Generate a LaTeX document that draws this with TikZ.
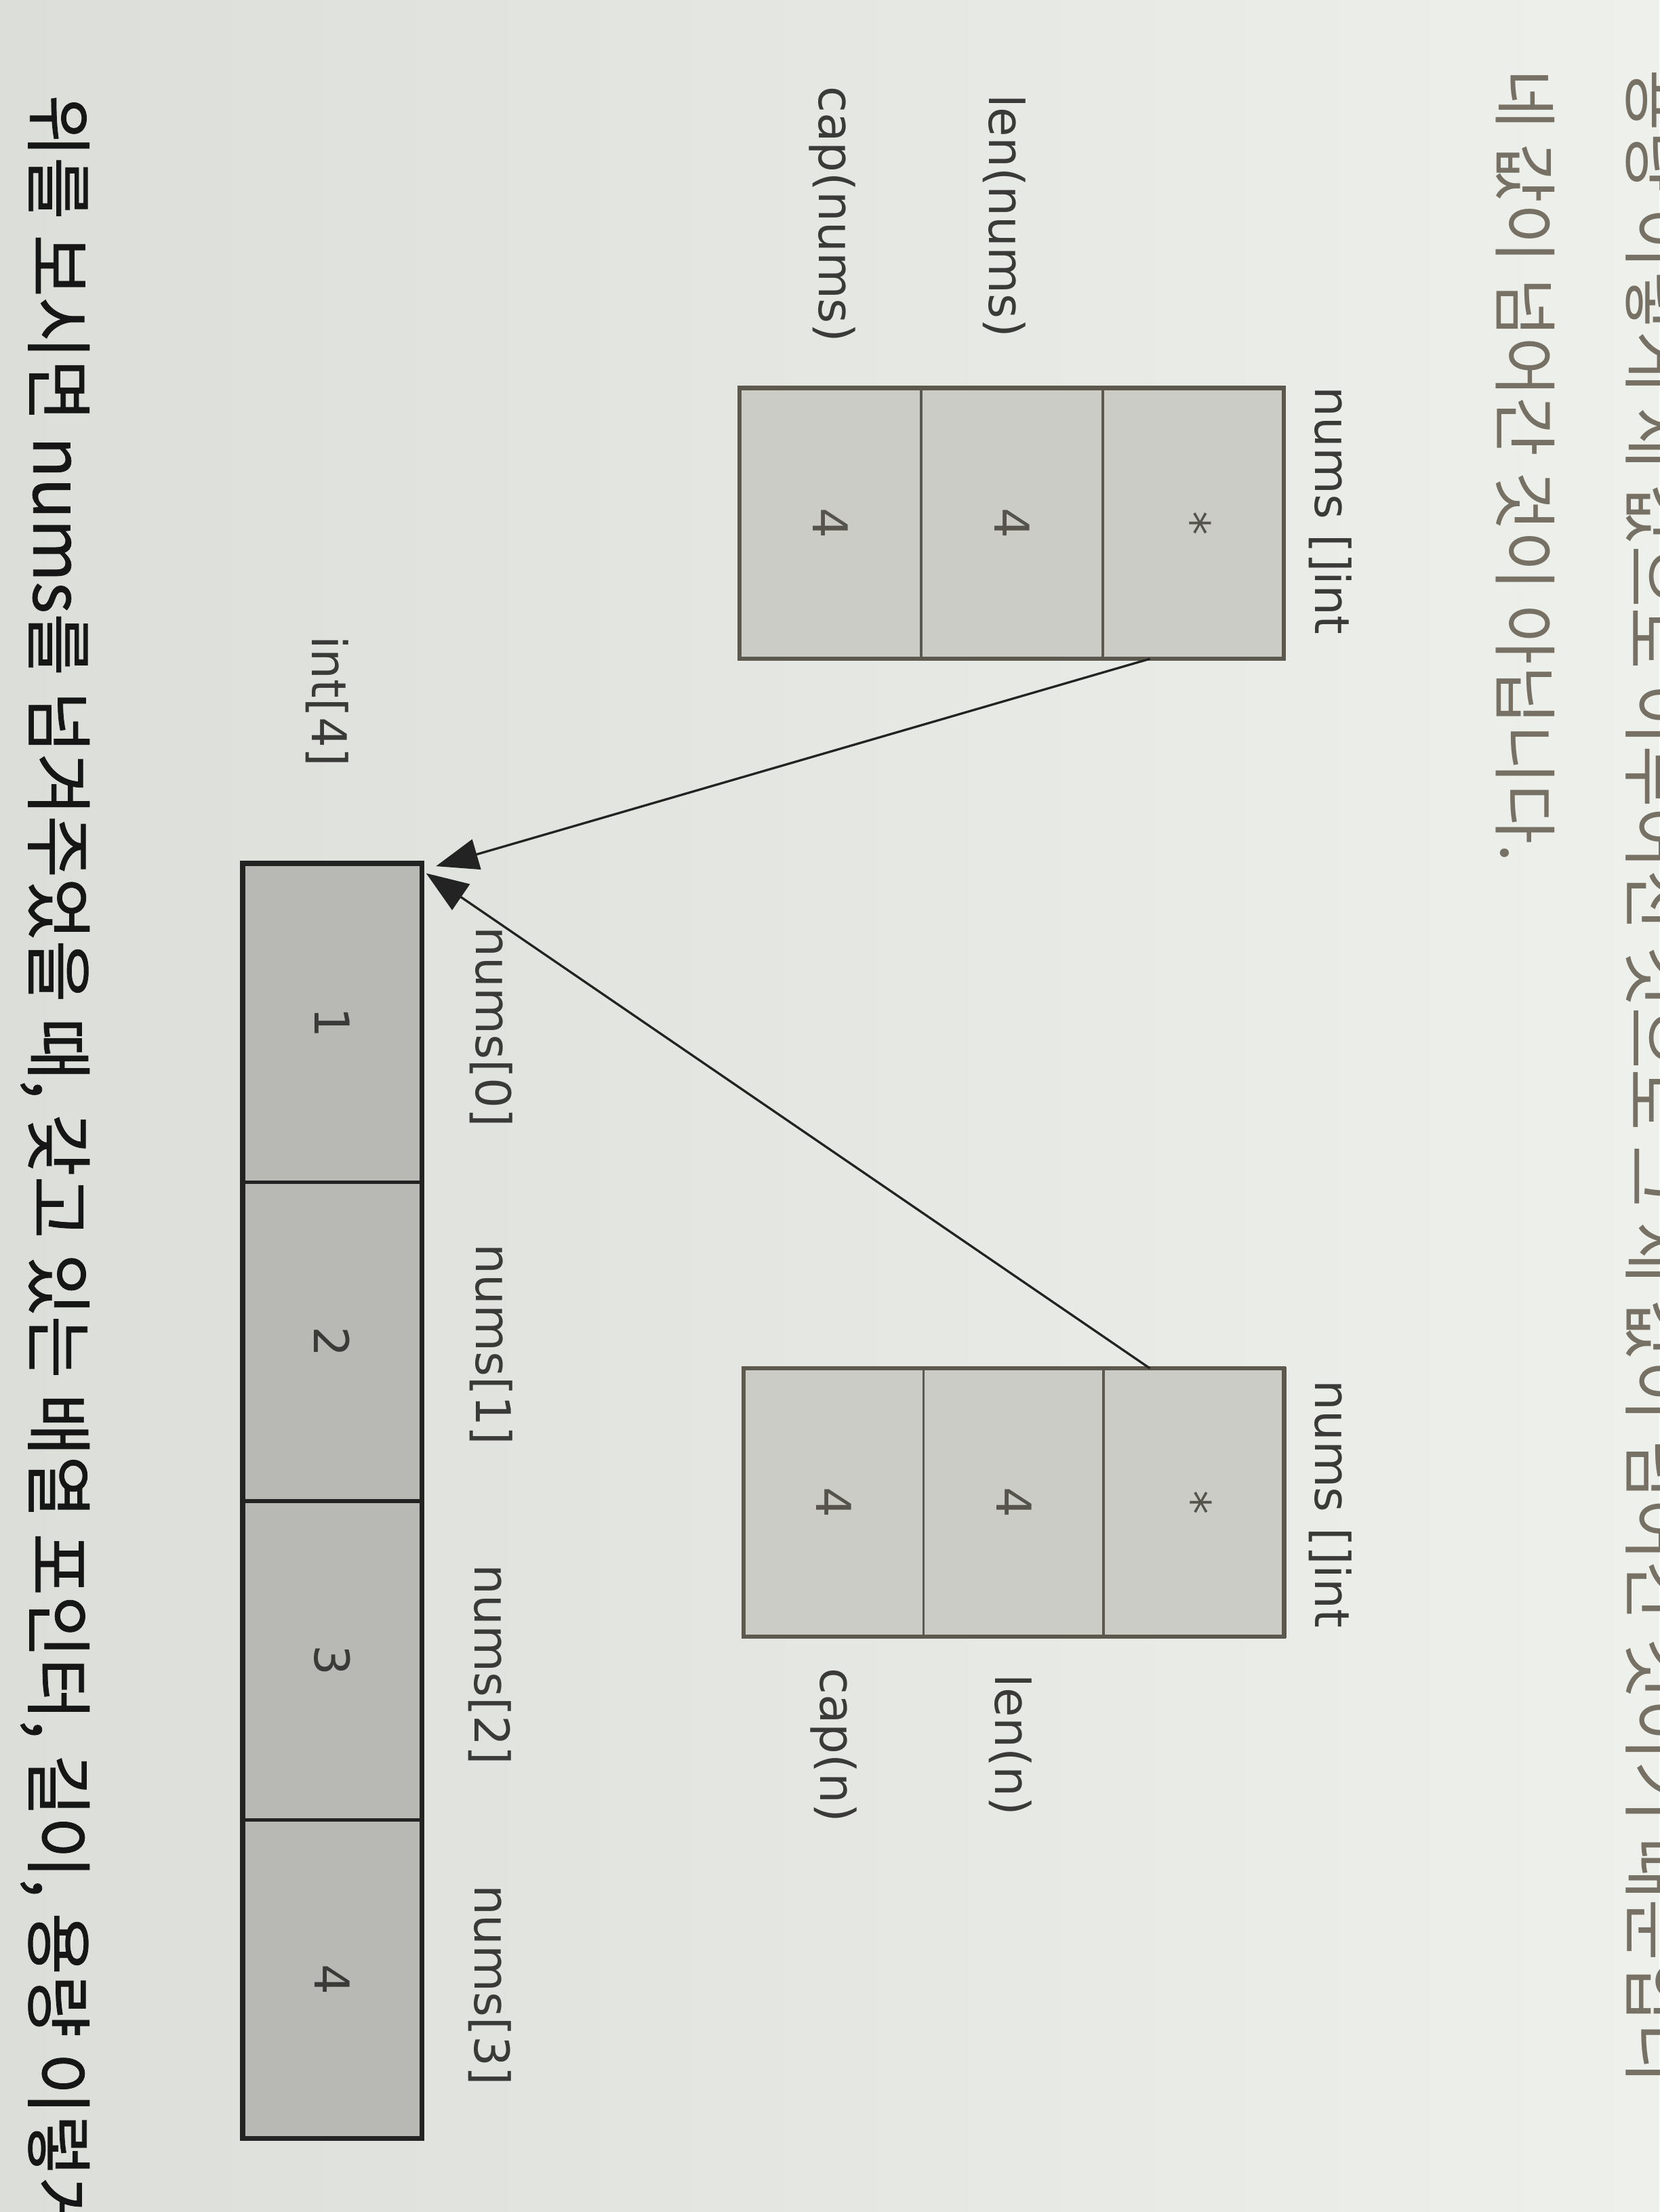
\documentclass[tikz,border=0pt]{standalone}
\usepackage{fontspec}
\setmainfont{DejaVu Sans}
\newfontfamily\kofont{Noto Sans CJK KR}
\newfontfamily\kofontb{Noto Sans CJK KR}[FakeBold=0.8]
\usetikzlibrary{arrows.meta}
\definecolor{paperL}{RGB}{219,222,217}
\definecolor{paperR}{RGB}{238,240,235}
\definecolor{boxfill}{RGB}{203,204,198}
\definecolor{arrfill}{RGB}{184,185,181}
\definecolor{boxline}{RGB}{92,88,78}
\definecolor{arrline}{RGB}{35,35,35}
\definecolor{labcol}{RGB}{58,58,56}
\definecolor{celltext}{RGB}{85,83,76}
\definecolor{kogray}{RGB}{118,113,100}
\definecolor{kotext}{RGB}{22,22,22}
\begin{document}
\begin{tikzpicture}[x=1pt,y=1pt,
  lab/.style={rotate=-90, inner sep=0pt, text=labcol, font=\fontsize{34}{40}\selectfont},
  kol/.style={rotate=-90, inner sep=0pt, anchor=west, font=\kofont\fontsize{46}{50}\selectfont},
  hdrcell/.style={draw=boxline, line width=1.8pt, fill=boxfill, rotate=-90,
    minimum width=192pt, minimum height=129pt, inner sep=0pt, text=celltext,
    font=\fontsize{34}{40}\selectfont},
  arrcell/.style={draw=arrline, line width=2.6pt, fill=arrfill, rotate=-90,
    minimum width=226pt, minimum height=127pt, inner sep=0pt, text=labcol,
    font=\fontsize{34}{40}\selectfont},
  ptr/.style={draw=arrline, line width=1.6pt, -{Triangle[length=30pt,width=22pt]}},
]
\useasboundingbox (0,0) rectangle (1176,-1568);
\clip (0,0) rectangle (1176,-1568);
\shade[left color=paperL, right color=paperR] (0,0) rectangle (1176,-1568);

% Korean body text
\node[kol, text=kogray, font=\kofont\fontsize{47.5}{52}\selectfont] (k1) at (1174,-49) {용량 이렇게 세 값으로 이루어진 것으로 그 세 값이 넘어간 것이기 때문입니};
\node[kol, text=kogray] (k2) at (1081,-49) {네 값이 넘어간 것이 아닙니다.};
\node[kol, text=kotext, font=\kofontb\fontsize{48}{52}\selectfont] (k3) at (39,-67) {위를 보시면 nums를 넘겨주었을 때, 갖고 있는 배열 포인터, 길이, 용량 이렇게};

% slice header 1
\node[hdrcell] (h1c) at (588.5,-371) {4};
\node[hdrcell] (h1l) at (717.5,-371) {4};
\node[hdrcell] (h1p) at (846,-371) {*};
\draw[boxline, line width=3pt] (524,-275) rectangle (910,-467);
\node[lab] (t1) at (943,-362) {nums []int};
\node[lab] (len1) at (712,-153) {len(nums)};
\node[lab] (cap1) at (590,-152) {cap(nums)};

% slice header 2
\node[hdrcell, minimum width=190pt] (h2c) at (591,-1065) {4};
\node[hdrcell, minimum width=190pt] (h2l) at (719,-1065) {4};
\node[hdrcell, minimum width=190pt] (h2p) at (846.5,-1065) {*};
\draw[boxline, line width=3pt] (527,-970) rectangle (910,-1160);
\node[lab] (t2) at (943,-1066) {nums []int};
\node[lab] (len2) at (716,-1237) {len(n)};
\node[lab] (cap2) at (591,-1237) {cap(n)};

% array
\node[arrcell] (a0) at (235.5,-725) {1};
\node[arrcell] (a1) at (235.5,-951) {2};
\node[arrcell] (a2) at (235.5,-1177) {3};
\node[arrcell] (a3) at (235.5,-1403) {4};
\draw[arrline, line width=3.5pt] (172,-612) rectangle (299,-1516);
\node[lab] (ti) at (232,-497) {int[4]};
\node[lab] (n0) at (348,-728) {nums[0]};
\node[lab] (n1) at (348,-953) {nums[1]};
\node[lab] (n2) at (347,-1180) {nums[2]};
\node[lab] (n3) at (347,-1407) {nums[3]};

% pointers
\coordinate (s1) at (815,-467);
\coordinate (e1) at (309,-614);
\coordinate (s2) at (815,-970);
\coordinate (e2) at (302,-619);
\draw[ptr] (s1) -- (e1);
\draw[ptr] (s2) -- (e2);
\end{tikzpicture}
\end{document}
